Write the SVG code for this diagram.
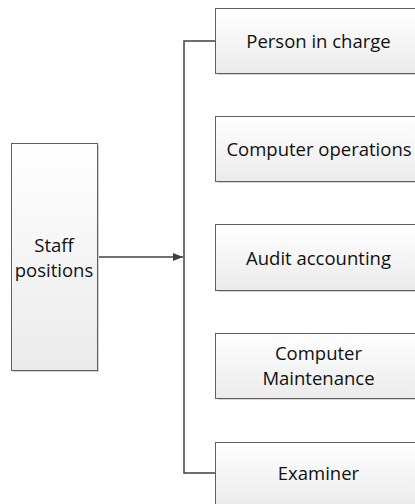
<svg xmlns="http://www.w3.org/2000/svg" width="415" height="504" viewBox="0 0 415 504">
<defs>
<linearGradient id="g" x1="0" y1="0" x2="0" y2="1">
<stop offset="0" stop-color="#ffffff"/>
<stop offset="1" stop-color="#ebebeb"/>
</linearGradient>
<marker id="arr" viewBox="0 0 10 10" refX="10" refY="5" markerWidth="10" markerHeight="10" markerUnits="userSpaceOnUse" orient="auto">
<path d="M0,1 L10,5 L0,9 z" fill="#404040"/>
</marker>
</defs>
<style>
.box{fill:url(#g);stroke:#5f5f5f;stroke-width:1}
.sh{fill:#d4d4d4}
.t{font-family:"Open Sans","Liberation Sans",sans-serif;font-size:18.5px;fill:#111;text-anchor:middle}
.c{fill:none;stroke:#404040;stroke-width:1.5}
</style>
<rect width="415" height="504" fill="#fff"/>
<g id="connectors">
<path class="c" d="M215,41 H184 V473 H215"/>
<path class="c" d="M97,257 H183" marker-end="url(#arr)"/>
</g>
<g id="staff">
<rect class="sh" x="13" y="145" width="86" height="227"/>
<rect class="box" x="11.5" y="143.5" width="86" height="227"/>
<text class="t" x="54" y="252">Staff</text>
<text class="t" x="54" y="277">positions</text>
</g>
<g id="person">
<rect class="sh" x="218" y="10" width="205" height="65"/>
<rect class="box" x="215.5" y="8.5" width="205" height="65"/>
<text class="t" x="318.5" y="48">Person in charge</text>
</g>
<g id="operations">
<rect class="sh" x="218" y="118" width="205" height="65"/>
<rect class="box" x="215.5" y="116.5" width="205" height="65"/>
<text class="t" x="319" y="156">Computer operations</text>
</g>
<g id="audit">
<rect class="sh" x="218" y="226" width="205" height="66"/>
<rect class="box" x="215.5" y="224.5" width="205" height="66"/>
<text class="t" x="318.5" y="265">Audit accounting</text>
</g>
<g id="maintenance">
<rect class="sh" x="218" y="335" width="205" height="65"/>
<rect class="box" x="215.5" y="333.5" width="205" height="65"/>
<text class="t" x="318.5" y="360">Computer</text>
<text class="t" x="318.5" y="385">Maintenance</text>
</g>
<g id="examiner">
<rect class="sh" x="218" y="444" width="205" height="65"/>
<rect class="box" x="215.5" y="442.5" width="205" height="65"/>
<text class="t" x="318.5" y="480">Examiner</text>
</g>
</svg>
